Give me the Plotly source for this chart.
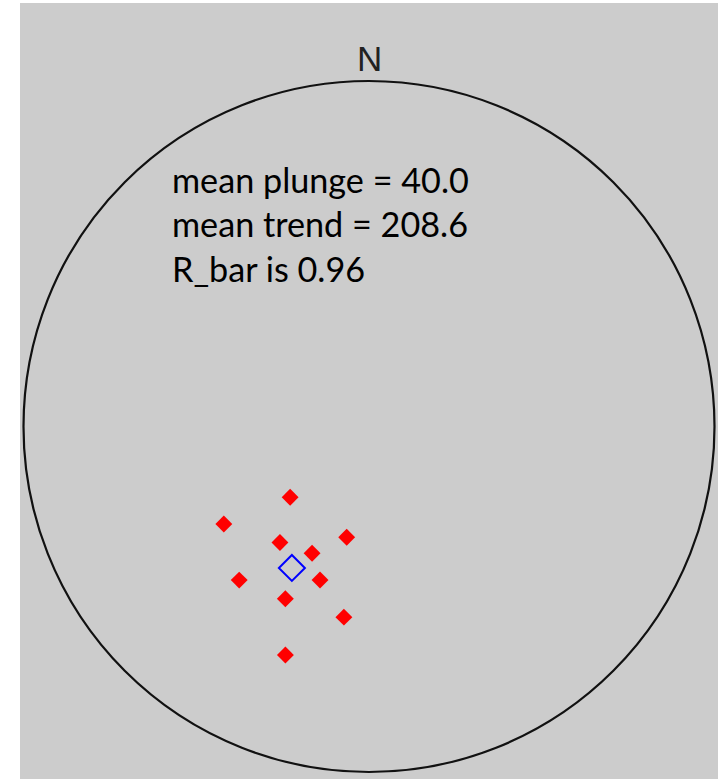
import numpy as np
import plotly.graph_objects as go

# Lineation data (trend, plunge in degrees) read from the stereonet
trend = [228.1, 236.1, 191.4, 217.5, 204.2, 220.2, 197.7, 205.9, 187.5, 200.1]
plunge = [55.9, 36.3, 53.8, 44.1, 46.2, 29.6, 40.0, 32.0, 31.8, 19.7]

mean_plunge = 40.0
mean_trend = 208.6
r_bar = 0.96

stats_lines = [
    f"mean plunge = {mean_plunge:.1f}",
    f"mean trend = {mean_trend:.1f}",
    f"R_bar is {r_bar:.2f}",
]


def project(tr, pl):
    """Lower-hemisphere stereographic (Wulff) projection, unit primitive circle."""
    tr = np.radians(np.asarray(tr, dtype=float))
    pl = np.radians(np.asarray(pl, dtype=float))
    r = np.tan((np.pi / 2 - pl) / 2)
    return r * np.sin(tr), r * np.cos(tr)


px, py = project(trend, plunge)
mx, my = project([mean_trend], [mean_plunge])

# pixel layout of the figure
W, H = 718, 779
CX, CY, R = 369.0, 426.5, 345.5
L, T = 20, 3


def dx(p):
    return (p - CX) / R


def dy(p):
    return (CY - p) / R


fig = go.Figure()

fig.add_trace(go.Scatter(
    x=px, y=py, mode="markers",
    marker=dict(symbol="diamond", size=13, color="#ff0000", line=dict(width=0)),
    hoverinfo="skip", showlegend=False,
))
fig.add_trace(go.Scatter(
    x=mx, y=my, mode="markers",
    marker=dict(symbol="diamond-open", size=20, color="#0000ff", line=dict(width=2, color="#0000ff")),
    hoverinfo="skip", showlegend=False,
))

fig.add_shape(type="circle", xref="x", yref="y", x0=-1, y0=-1, x1=1, y1=1,
              line=dict(color="#111111", width=2.2), layer="above")

fig.add_annotation(x=0, y=dy(58), xref="x", yref="y", text="N", showarrow=False,
                   xanchor="center", yanchor="middle",
                   font=dict(family="Liberation Sans", size=35, color="#222222"))

fig.add_annotation(x=dx(170), y=dy(157), xref="x", yref="y",
                   text="<br>".join(stats_lines), showarrow=False,
                   xanchor="left", yanchor="top", align="left",
                   font=dict(family="Lato", size=34.2, color="#000000"))

fig.update_layout(
    width=W, height=H,
    margin=dict(l=L, r=0, t=T, b=0, pad=0),
    paper_bgcolor="#ffffff", plot_bgcolor="#cccccc",
    xaxis=dict(range=[dx(L), dx(W)], visible=False, fixedrange=True),
    yaxis=dict(range=[dy(H), dy(T)], visible=False, fixedrange=True),
    showlegend=False,
)

fig.write_html(
    "out.html",
    config={"displayModeBar": False},
    post_script="document.body.style.margin='0';document.body.style.overflow='hidden';",
)
